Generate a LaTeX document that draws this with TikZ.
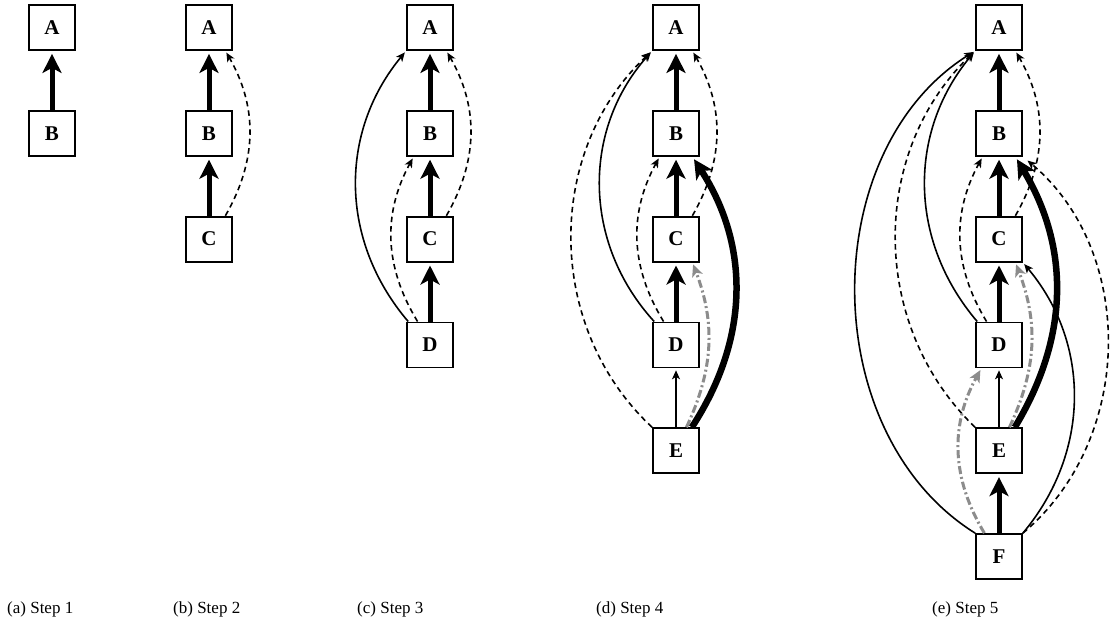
\documentclass[tikz,border=0pt]{standalone}
\usepackage{fontspec}
\setmainfont{Liberation Serif}
\usetikzlibrary{arrows.meta}
\definecolor{arrgray}{RGB}{140,140,140}
\tikzset{
  box/.style={draw, line width=1.8pt, fill=white, minimum width=46pt, minimum height=45pt, inner sep=0pt, font=\bfseries\fontsize{21}{21}\selectfont},
  thickarr/.style={line width=5pt, -{Stealth[length=19pt,width=19pt,inset=5pt]}, shorten >=3pt},
  vthickarr/.style={line width=6.5pt, -{Stealth[length=19pt,width=19pt,inset=5pt]}, shorten >=3pt},
  thinarr/.style={line width=1.6pt, -{Stealth[length=9pt,width=8pt,inset=2.5pt]}, shorten >=2pt},
  dasharr/.style={thinarr, dash pattern=on 5.5pt off 4pt},
  grayarr/.style={line width=3pt, draw=arrgray, dash pattern=on 8pt off 3pt on 2pt off 3pt, -{Stealth[length=12pt,width=11pt,inset=3pt,fill=arrgray]}, shorten >=2pt},
  capt/.style={anchor=base west, inner sep=0pt, font=\fontsize{17}{17}\selectfont}
}
\begin{document}
\begin{tikzpicture}[x=1pt,y=1pt]
\useasboundingbox[fill=white] (0,0) rectangle (1113,-630);
% rows
\def\ra{-27.5}\def\rb{-133.3}\def\rc{-239.1}\def\rd{-344.9}\def\re{-450.7}\def\rf{-556.5}
% step 1
\node[box] (a1) at (52,\ra) {A};
\node[box] (b1) at (52,\rb) {B};
\draw[thickarr] (b1) -- (a1);
% step 2
\node[box] (a2) at (209,\ra) {A};
\node[box] (b2) at (209,\rb) {B};
\node[box] (c2) at (209,\rc) {C};
\draw[dasharr] (c2.55) to[bend right=30] (a2.-55);
\draw[thickarr] (b2) -- (a2);
\draw[thickarr] (c2) -- (b2);
% step 3
\node[box] (a3) at (430,\ra) {A};
\node[box] (b3) at (430,\rb) {B};
\node[box] (c3) at (430,\rc) {C};
\node[box] (d3) at (430,\rd) {D};
\draw[dasharr] (c3.55) to[bend right=30] (a3.-55);
\draw[dasharr] (d3.118) to[bend left=30] (b3.-125);
\draw[thinarr] (d3.133) to[bend left=40] (a3.south west);
\draw[thickarr] (b3) -- (a3);
\draw[thickarr] (c3) -- (b3);
\draw[thickarr] (d3) -- (c3);
% step 4
\node[box] (a4) at (676,\ra) {A};
\node[box] (b4) at (676,\rb) {B};
\node[box] (c4) at (676,\rc) {C};
\node[box] (d4) at (676,\rd) {D};
\node[box] (e4) at (676,\re) {E};
\draw[dasharr] (c4.55) to[bend right=30] (a4.-55);
\draw[dasharr] (d4.118) to[bend left=30] (b4.-125);
\draw[thinarr] (d4.133) to[bend left=42] (a4.south west);
\draw[dasharr] (e4.north west) to[bend left=47] (a4.south west);
\draw[grayarr] (e4.66) to[bend right=23] (c4.-55);
\draw[vthickarr] (e4.56) to[bend right=33] (b4.-55);
\draw[thinarr] (e4) -- (d4);
\draw[thickarr] (b4) -- (a4);
\draw[thickarr] (c4) -- (b4);
\draw[thickarr] (d4) -- (c4);
% step 5
\node[box] (a5) at (999,\ra) {A};
\node[box] (b5) at (999,\rb) {B};
\node[box] (c5) at (999,\rc) {C};
\node[box] (d5) at (999,\rd) {D};
\node[box] (e5) at (999,\re) {E};
\node[box] (f5) at (999,\rf) {F};
\draw[dasharr] (c5.55) to[bend right=30] (a5.-55);
\draw[dasharr] (d5.118) to[bend left=30] (b5.-125);
\draw[thinarr] (d5.133) to[bend left=40] (a5.south west);
\draw[dasharr] (e5.north west) to[bend left=46] (a5.south west);
\draw[thinarr] (f5.north west) to[bend left=58] (a5.south west);
\draw[grayarr] (f5.122) to[bend left=30] (d5.-127);
\draw[thinarr] (f5.north east) to[bend right=40] (c5.south east);
\draw[dasharr, shorten >=6pt] (f5.north east) to[bend right=50] (b5.south east);
\draw[grayarr] (e5.66) to[bend right=23] (c5.-55);
\draw[vthickarr] (e5.56) to[bend right=31] (b5.-55);
\draw[thinarr] (e5) -- (d5);
\draw[thickarr] (b5) -- (a5);
\draw[thickarr] (c5) -- (b5);
\draw[thickarr] (d5) -- (c5);
\draw[thickarr] (f5) -- (e5);
% captions
\node[capt] (ca) at (7,-613) {(a) Step 1};
\node[capt] (cb) at (173,-613) {(b) Step 2};
\node[capt] (cc) at (357,-613) {(c) Step 3};
\node[capt] (cd) at (596,-613) {(d) Step 4};
\node[capt] (ce) at (932,-613) {(e) Step 5};
\end{tikzpicture}
\end{document}
